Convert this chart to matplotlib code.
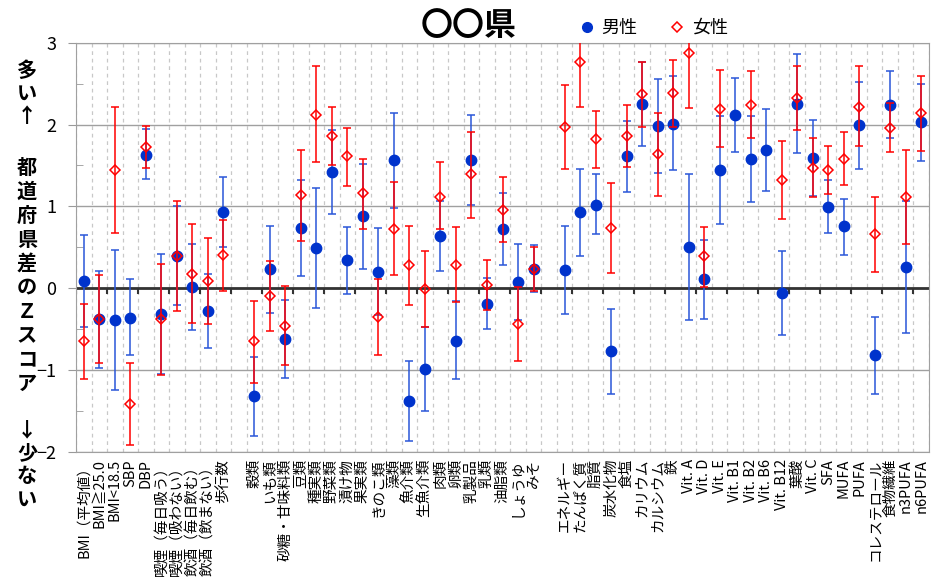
import numpy as np
import matplotlib
matplotlib.use("Agg")
import matplotlib.pyplot as plt
from matplotlib.lines import Line2D

plt.rcParams['font.family'] = ['Noto Sans CJK JP', 'DejaVu Sans']
plt.rcParams['axes.unicode_minus'] = True

# categories, three groups separated by one empty slot
group_sizes = [10, 19, 24]
labels = [
    "BMI（平均値）", "BMI≧25.0", "BMI<18.5", "SBP", "DBP",
    "喫煙（毎日吸う）", "喫煙（吸わない）", "飲酒（毎日飲む）", "飲酒（飲まない）", "歩行数",
    "穀類", "いも類", "砂糖・甘味料類", "豆類", "種実類", "野菜類", "漬け物", "果実類",
    "きのこ類", "藻類", "魚介類", "生魚介類", "肉類", "卵類", "乳製品", "乳類",
    "油脂類", "しょうゆ", "みそ",
    "エネルギー", "たんぱく質", "脂質", "炭水化物", "食塩", "カリウム", "カルシウム", "鉄",
    "Vit. A", "Vit. D", "Vit. E", "Vit. B1", "Vit. B2", "Vit. B6", "Vit. B12", "葉酸",
    "Vit. C", "SFA", "MUFA", "PUFA", "コレステロール", "食物繊維", "n3PUFA", "n6PUFA",
]

male = [0.09, -0.37, -0.39, -0.36, 1.63, -0.31, 0.40, 0.02, -0.28, 0.935,
        -1.32, 0.23, -0.62, 0.735, 0.49, 1.42, 0.34, 0.88, 0.20, 1.565,
        -1.38, -0.98, 0.64, -0.65, 1.57, -0.19, 0.72, 0.073, 0.235,
        0.22, 0.93, 1.02, -0.77, 1.61, 2.25, 1.98, 2.01, 0.50, 0.11,
        1.44, 2.12, 1.58, 1.69, -0.06, 2.25, 1.59, 0.99, 0.756, 1.99,
        -0.82, 2.24, 0.26, 2.03]
male_lo = [-0.47, -0.97, -1.24, -0.82, 1.33, -1.05, -0.21, -0.51, -0.73, 0.51,
           -1.80, -0.30, -1.09, 0.155, -0.24, 0.91, -0.07, 0.24, -0.33, 0.985,
           -1.87, -1.50, 0.21, -1.11, 1.02, -0.50, 0.28, -0.39, -0.05,
           -0.32, 0.39, 0.66, -1.29, 1.18, 1.74, 1.41, 1.44, -0.39, -0.38,
           0.78, 1.67, 1.06, 1.19, -0.57, 1.65, 1.13, 0.67, 0.41, 1.46,
           -1.29, 1.83, -0.55, 1.56]
male_hi = [0.655, 0.215, 0.47, 0.11, 1.94, 0.42, 1.01, 0.545, 0.17, 1.36,
           -0.84, 0.76, -0.14, 1.32, 1.22, 1.93, 0.75, 1.52, 0.74, 2.14,
           -0.89, -0.47, 1.07, -0.16, 2.12, 0.12, 1.17, 0.54, 0.53,
           0.756, 1.46, 1.39, -0.25, 2.045, 2.76, 2.56, 2.59, 1.39, 0.59,
           2.10, 2.565, 2.10, 2.19, 0.455, 2.86, 2.06, 1.32, 1.09, 2.52,
           -0.345, 2.65, 1.07, 2.49]

female = [-0.65, -0.37, 1.45, -1.41, 1.72, -0.38, 0.40, 0.17, 0.09, 0.41,
          -0.65, -0.10, -0.455, 1.14, 2.12, 1.86, 1.61, 1.16, -0.35, 0.73,
          0.28, -0.01, 1.12, 0.29, 1.39, 0.04, 0.96, -0.44, 0.235,
          1.97, 2.76, 1.82, 0.74, 1.86, 2.37, 1.64, 2.38, 2.87, 0.39,
          2.195, np.nan, 2.24, np.nan, 1.32, 2.32, 1.47, 1.45, 1.585, 2.22,
          0.66, 1.96, 1.11, 2.14]
female_lo = [-1.11, -0.91, 0.68, -1.91, 1.47, -1.06, -0.28, -0.43, -0.44, -0.03,
             -1.16, -0.52, -0.94, 0.58, 1.54, 1.51, 1.25, 0.73, -0.81, 0.16,
             -0.20, -0.47, 0.72, -0.17, 0.86, -0.26, 0.565, -0.89, -0.03,
             1.46, 2.21, 1.47, 0.19, 1.48, 1.97, 1.13, 1.97, 2.20, 0.02,
             1.72, np.nan, 1.84, np.nan, 0.845, 1.93, 1.11, 1.155, 1.26, 1.735,
             0.20, 1.66, 0.54, 1.68]
female_hi = [-0.19, 0.16, 2.22, -0.91, 1.98, 0.30, 1.07, 0.78, 0.62, 0.84,
             -0.15, 0.33, 0.03, 1.69, 2.71, 2.22, 1.96, 1.58, 0.11, 1.30,
             0.76, 0.46, 1.54, 0.75, 1.91, 0.34, 1.36, 0.01, 0.51,
             2.48, 3.02, 2.17, 1.28, 2.24, 2.77, 2.14, 2.79, 3.55, 0.75,
             2.67, np.nan, 2.65, np.nan, 1.80, 2.72, 1.83, 1.74, 1.91, 2.72,
             1.11, 2.26, 1.695, 2.59]

# slot positions with one empty slot between groups
pos = []
start = 0
for n in group_sizes:
    pos += [start + k + 0.5 for k in range(n)]
    start += n + 1
n_slots = start - 1
pos = np.array(pos)

m = np.array(male)
f = np.array(female)

fig = plt.figure(figsize=(9.35, 5.84), dpi=100)
ax = fig.add_axes([76 / 935, 1 - 452 / 584, (929 - 76) / 935, (452 - 42.7) / 584])

blue = '#0033cc'
red = '#ff0000'

ax.errorbar(pos, m, yerr=[m - np.array(male_lo), np.array(male_hi) - m],
            fmt='o', color=blue, ecolor='#2a56d8', elinewidth=1.1, capsize=3,
            capthick=1.1, markersize=7.5, zorder=4)
ax.errorbar(pos, f, yerr=[f - np.array(female_lo), np.array(female_hi) - f],
            fmt='D', color=red, ecolor=red, mfc='none', mec=red, mew=1.1,
            elinewidth=1.1, capsize=3, capthick=1.1, markersize=5.5, zorder=5)

ax.set_xlim(0, n_slots)
ax.set_ylim(-2, 3)

ax.set_xticks(pos)
ax.set_xticklabels(labels, rotation=90, fontsize=10.5)
ax.set_xticks(np.arange(0, n_slots + 1), minor=True)
ax.tick_params(axis='x', which='both', length=0, pad=5)
ax.grid(axis='x', which='minor', color='#c8c8c8', linestyle=(0, (3, 3)), lw=0.9)

ax.set_yticks(np.arange(-2, 4))
ax.set_yticklabels(['−2', '−1', '0', '1', '2', '3'], fontsize=13)
ax.set_yticks(np.arange(-1.5, 3, 1), minor=True)
ax.tick_params(axis='y', which='major', direction='out', length=6, color='#999999', pad=8)
ax.tick_params(axis='y', which='minor', direction='in', length=5, color='#999999')
ax.grid(axis='y', which='major', color='#a0a0a0', lw=1)
ax.set_axisbelow(True)

for s in ax.spines.values():
    s.set_color('#a0a0a0')

ax.axhline(0, color='#333333', lw=2, zorder=2)
ax.vlines(np.arange(0, n_slots + 1, 2), -0.07, 0, color='#333333', lw=1.5, zorder=2)

# title and legend
fig.text(469 / 935, 1 - 26 / 584, "〇〇県", fontsize=23, fontweight='bold',
         ha='center', va='center')
handles = [Line2D([], [], marker='o', color=blue, ls='none', markersize=7),
           Line2D([], [], marker='D', color=red, mfc='none', ls='none',
                  markersize=5.5, mew=1.1)]
fig.legend(handles, ['男性', '女性'], loc='center', ncol=2, frameon=False,
           fontsize=13, bbox_to_anchor=(652 / 935, 1 - 28 / 584),
           handletextpad=0.2, columnspacing=1.6, handlelength=1.2)

# vertical y label on the left, one character per line
def vtext(chars, y0, step):
    for i, ch in enumerate(chars):
        fig.text(27 / 935, 1 - (y0 + i * step) / 584, ch, fontsize=14.5,
                 fontweight='bold', ha='center', va='center')

vtext("多い↑", 70, 23)
vtext("都道府県差のＺスコア", 167, 24)
vtext("↓少ない", 430, 23)

fig.savefig("out.png", dpi=100)
